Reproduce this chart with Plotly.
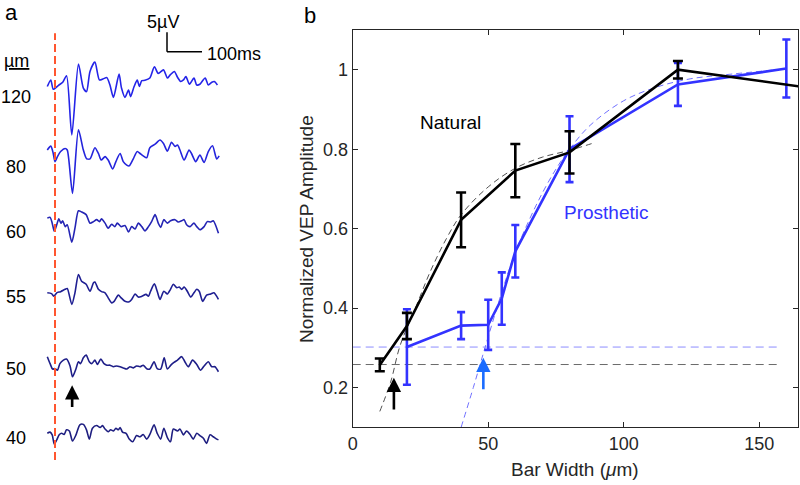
import plotly.graph_objects as go

# ---------------- Panel a: VEP traces (time in ms, amplitude in µV) ----------------
t120 = [-22,-12,-5,10,22,33,48,67,81,90,100,114,127,138,148,157,167,183,190,200,210,216,226,235,241,248,257,271,284,295,310,321,329,341,350,359,367,374,384,397,405,414,429,438,448,455,464]
v120 = [0,1.7,-0.7,0.3,1.1,2.8,-12.5,5.8,-0.4,-1.3,3.9,6.3,1.7,2.0,2.3,0.4,-2.8,3.2,-0.4,-2.8,-0.9,-2.6,0,1.7,0,1.5,1.6,2.2,5.1,3.4,4.3,2.2,3.0,3.9,2.4,1.3,1.7,2.6,0.6,2.2,0.4,0.6,2.2,0.4,1.1,1.3,0.4]

t80 = [-22,-12,-5,0,7,16,29,35,50,67,81,90,100,114,124,132,143,152,165,174,186,195,205,212,224,235,243,252,262,271,286,300,310,321,333,343,350,357,369,383,390,402,414,426,438,450,462,469]
v80 = [0,1.0,-0.9,-3.0,-1.7,-0.4,0.4,0,-11.2,5.2,0,-2.2,-2.3,0.6,-0.9,-2.6,-1.7,-2.6,-4.9,-3.0,-0.9,-3.0,-3.9,-4.1,-2.2,-0.4,-0.9,-1.5,-2.0,0.6,1.5,2.6,1.7,-0.3,2.0,0.9,1.3,0,-2.6,0,-0.9,-3.0,-1.3,-3.2,-0.4,1.1,-2.3,-1.5]

t60 = [-22,-14,-8,-2,5,11,17,22,29,35,48,57,67,76,89,100,110,119,127,133,143,152,162,171,178,189,200,210,219,229,238,248,257,267,276,286,295,302,311,321,330,343,352,362,369,376,386,397,405,414,426,435,445,452,467]
v60 = [0,0.2,-1.3,-3.4,-1.7,-0.2,-1.3,-0.7,-2.2,-1.7,-6.2,-2.6,1.9,1.6,0.9,-1.3,-0.9,-0.4,-0.9,-0.2,-1.3,-2.6,-1.6,-2.2,-1.3,-2.2,-1.9,-3.6,-2.2,-2.8,-1.3,-2.2,-3.3,-2.2,-0.9,0.9,-1.3,-2.4,-0.4,-1.3,-0.7,-0.4,-1.0,-0.7,-0.4,-1.7,-2.2,-1.3,-2.2,-3.0,-2.2,-0.9,-1.0,-0.7,-3.9]

t55 = [-22,-10,-3,5,16,29,35,48,57,67,76,89,100,110,114,124,133,143,152,162,169,181,189,200,212,219,229,238,248,260,267,273,284,292,300,311,321,330,338,348,355,362,369,378,388,397,405,412,422,433,445,454,467]
v55 = [0,-0.2,-0.9,0,0.3,0.9,1.1,-3.0,0,4.7,3.0,2.2,0.4,2.6,2.8,0.9,0.3,0,-1.3,-2.6,-2.2,-0.6,-1.3,-2.2,-2.3,-1.7,-0.3,-1.1,-0.9,-0.4,-0.9,0.4,2.3,0.4,-1.7,0.4,-0.3,0.9,2.2,1.3,1.5,0.9,1.5,0.4,-1.1,0,0.9,0.4,-2.2,-0.6,-0.3,0,-1.7]

t50 = [-22,-14,-7,0,7,14,24,33,43,50,60,67,73,81,89,98,105,114,121,131,140,148,157,167,176,186,195,205,214,224,233,243,252,262,271,283,292,302,312,321,331,340,350,362,371,381,393,405,416,426,438,448,457,467]
v50 = [2.2,0.4,-1.0,-0.9,-1.3,0.4,1.3,1.6,-0.2,-3.0,-0.9,0.9,0.4,1.9,2.6,0.9,0.4,1.3,0.2,1.6,0.4,0,0,-0.4,-0.2,-0.4,-0.7,-1.0,-0.4,-0.7,-0.2,-0.4,0,-0.9,-1.0,0.9,-0.9,-1.0,1.9,-1.0,0,0.7,1.3,2.2,0.9,-0.4,1.3,0.2,-1.3,-0.2,0.9,-0.4,-0.4,-1.7]

t40 = [-22,-14,-8,-2,5,12,19,26,33,41,50,60,71,81,90,98,107,119,129,136,143,152,159,167,174,181,186,193,203,212,222,233,243,252,262,271,283,292,302,311,321,330,338,350,357,367,376,386,395,405,414,424,433,443,452,462,467]
v40 = [0,0.3,-0.4,-2.8,-1.7,-0.4,0,-0.3,0.9,0.6,-2.0,-0.4,2.2,2.3,0.9,-1.5,1.3,2.0,1.5,2.0,1.1,0.4,0.9,0.6,1.3,0.9,1.5,0.3,0,-1.5,-2.2,-0.6,-0.9,-0.3,-1.5,-0.3,2.2,0,-1.5,1.3,-1.1,-2.2,1.1,0.6,1.1,-0.4,0.6,-0.3,-1.5,0,-0.6,-1.3,-2.6,-0.4,-0.9,-1.5,-1.7]

trace_labels = ["120", "80", "60", "55", "50", "40"]

# ---------------- Panel b: normalized VEP amplitude vs bar width ----------------
nat_x = [10, 20, 40, 60, 80, 120, 200]
nat_y = [0.257, 0.355, 0.622, 0.746, 0.792, 1.0, 0.925]
nat_err = [0.016, 0.033, 0.069, 0.067, 0.053, 0.022, 0.0]

pros_x = [20, 40, 50, 55, 60, 80, 120, 160]
pros_y = [0.302, 0.356, 0.358, 0.424, 0.543, 0.80, 0.963, 1.003]
pros_err = [0.095, 0.034, 0.063, 0.066, 0.066, 0.083, 0.054, 0.073]

nat_fit_x = [10, 14, 17.5, 23.5, 28.5, 34.5, 40, 50, 60, 70, 80, 89.5]
nat_fit_y = [0.14, 0.214, 0.306, 0.406, 0.49, 0.574, 0.635, 0.705, 0.752, 0.78, 0.797, 0.817]

pros_fit_x = [40, 44.5, 48.8, 55, 60, 65, 70, 75, 80, 87.6, 100, 112, 124.5, 137, 156.5]
pros_fit_y = [0.10, 0.20, 0.30, 0.44, 0.54, 0.62, 0.69, 0.75, 0.80, 0.86, 0.922, 0.956, 0.977, 0.987, 1.0]

nat_threshold = 0.258
pros_threshold = 0.302
threshold_x = [0, 158]
nat_acuity_x = 15.2
pros_acuity_x = 48.2

x_ticks = [0, 50, 100, 150]
y_ticks = [0.2, 0.4, 0.6, 0.8, 1.0]
y_ticktext = ["0.2", "0.4", "0.6", "0.8", "1"]

# ---------------- layout helpers ----------------
W, H = 800, 485
FONT = "Liberation Sans, Arial, sans-serif"
TXT = "#262626"
BLUE = "#3333ff"
ARROW_BLUE = "#1a6cff"

def px(x):
    return x / W

def py(y):
    return 1 - y / H

fig = go.Figure()

# panel a traces
offsets = [89.6, 73.2, 55.6, 36.3, 17.6, 0.0]
colors = ["#2424e8", "#2424dc", "#2424b4", "#1f1f92", "#1e1e88", "#1e1e80"]
series = [(t120, v120), (t80, v80), (t60, v60), (t55, v55), (t50, v50), (t40, v40)]
for (tt, vv), off, col in zip(series, offsets, colors):
    fig.add_trace(go.Scatter(
        x=tt, y=[v + off for v in vv], mode="lines",
        line=dict(color=col, width=1.6, shape="spline", smoothing=0.7),
        xaxis="x2", yaxis="y2", showlegend=False, hoverinfo="skip"))

# panel b: threshold lines
fig.add_trace(go.Scatter(x=threshold_x, y=[pros_threshold] * 2, mode="lines",
                         line=dict(color="#8c8cff", width=1, dash="8px,5px"), showlegend=False))
fig.add_trace(go.Scatter(x=threshold_x, y=[nat_threshold] * 2, mode="lines",
                         line=dict(color="#6a6a6a", width=1, dash="8px,5px"), showlegend=False))
# fits
fig.add_trace(go.Scatter(x=nat_fit_x, y=nat_fit_y, mode="lines",
                         line=dict(color="#505050", width=1, dash="6px,4px", shape="spline"), showlegend=False))
fig.add_trace(go.Scatter(x=pros_fit_x, y=pros_fit_y, mode="lines",
                         line=dict(color="#7070ff", width=1, dash="6px,4px", shape="spline"), showlegend=False))
# data
fig.add_trace(go.Scatter(x=pros_x, y=pros_y, mode="lines",
                         line=dict(color=BLUE, width=2.6),
                         error_y=dict(type="data", array=pros_err, color=BLUE, thickness=2.6, width=4),
                         showlegend=False))
fig.add_trace(go.Scatter(x=nat_x, y=nat_y, mode="lines",
                         line=dict(color="black", width=2.6),
                         error_y=dict(type="data", array=nat_err, color="black", thickness=2.6, width=5),
                         showlegend=False))

annotations = []

def label(x, y, text, size=18, color="black", **kw):
    d = dict(x=px(x), y=py(y), xref="paper", yref="paper", text=text, showarrow=False,
             xanchor="center", yanchor="middle", font=dict(family=FONT, size=size, color=color))
    d.update(kw)
    annotations.append(d)

# panel b arrows
annotations.append(dict(x=nat_acuity_x, y=0.225, ax=nat_acuity_x, ay=0.141, xref="x", yref="y",
                        axref="x", ayref="y", showarrow=True, arrowhead=2, arrowsize=1.1,
                        arrowwidth=2.6, arrowcolor="black", text=""))
annotations.append(dict(x=pros_acuity_x, y=0.275, ax=pros_acuity_x, ay=0.192, xref="x", yref="y",
                        axref="x", ayref="y", showarrow=True, arrowhead=2, arrowsize=1.1,
                        arrowwidth=2.6, arrowcolor=ARROW_BLUE, text=""))
annotations.append(dict(x=36.1, y=0.866, xref="x", yref="y", text="Natural", showarrow=False,
                        xanchor="center", yanchor="middle",
                        font=dict(family=FONT, size=19, color="black")))
annotations.append(dict(x=93.3, y=0.641, xref="x", yref="y", text="Prosthetic", showarrow=False,
                        xanchor="center", yanchor="middle",
                        font=dict(family=FONT, size=19, color=BLUE)))
# axis titles
label(575, 469, "Bar Width (<i>μ</i>m)", size=19, color=TXT)
label(306, 229, "Normalized VEP Amplitude", size=19, color=TXT, textangle=-90)
# panel letters
label(11, 12, "a", size=22)
label(310, 16, "b", size=22)
# panel a texts
label(163, 22, "5µV")
label(205, 54, "100ms", xanchor="left")
label(16, 61, "<u>µm</u>")
label_y = [97, 167, 232, 297, 369, 438]
for lab, yy in zip(trace_labels, label_y):
    label(16, yy, lab)
# panel a arrow (at 50 µm trace)
annotations.append(dict(x=49, y=12.4, ax=49, ay=6.4, xref="x2", yref="y2", axref="x2", ayref="y2",
                        showarrow=True, arrowhead=2, arrowsize=1.1, arrowwidth=2.6,
                        arrowcolor="black", text=""))

shapes = [
    # stimulus onset
    dict(type="line", xref="x2", yref="y2", x0=0, x1=0, y0=-6.9, y1=103.4,
         line=dict(color="#ff5630", width=2, dash="8px,4px")),
    # scale bar
    dict(type="line", xref="x2", yref="y2", x0=320, x1=320, y0=98.6, y1=103.6,
         line=dict(color="black", width=1.5)),
    dict(type="line", xref="x2", yref="y2", x0=320, x1=420, y0=98.6, y1=98.6,
         line=dict(color="black", width=1.5)),
]

fig.update_layout(
    width=W, height=H,
    margin=dict(l=0, r=0, t=0, b=0, pad=0, autoexpand=False),
    paper_bgcolor="white", plot_bgcolor="white",
    font=dict(family=FONT, size=18, color=TXT),
    showlegend=False,
    annotations=annotations,
    shapes=shapes,
    xaxis=dict(domain=[px(352.7), px(798)], range=[0, 164.3], tickvals=x_ticks,
               ticks="inside", ticklen=5, tickcolor=TXT, showline=True, linecolor=TXT,
               linewidth=1, mirror="ticks", showgrid=False, zeroline=False, automargin=False,
               tickfont=dict(family=FONT, size=18, color=TXT), anchor="y"),
    yaxis=dict(domain=[1 - 427.3 / H, 1 - 30 / H], range=[0.1, 1.1], tickvals=y_ticks,
               ticktext=y_ticktext, ticks="inside", ticklen=5, tickcolor=TXT, showline=True,
               linecolor=TXT, linewidth=1, mirror="ticks", showgrid=False, zeroline=False,
               automargin=False, tickfont=dict(family=FONT, size=18, color=TXT), anchor="x"),
    xaxis2=dict(domain=[px(40), px(225)], range=[-42.86, 485.71], visible=False, anchor="y2"),
    yaxis2=dict(domain=[0, 1], range=[-13.36, 111.96], visible=False, anchor="x2"),
)

fig.write_html("out.html", config={"displayModeBar": False, "staticPlot": True},
               post_script="document.body.style.margin='0px';document.body.style.overflow='hidden';")
